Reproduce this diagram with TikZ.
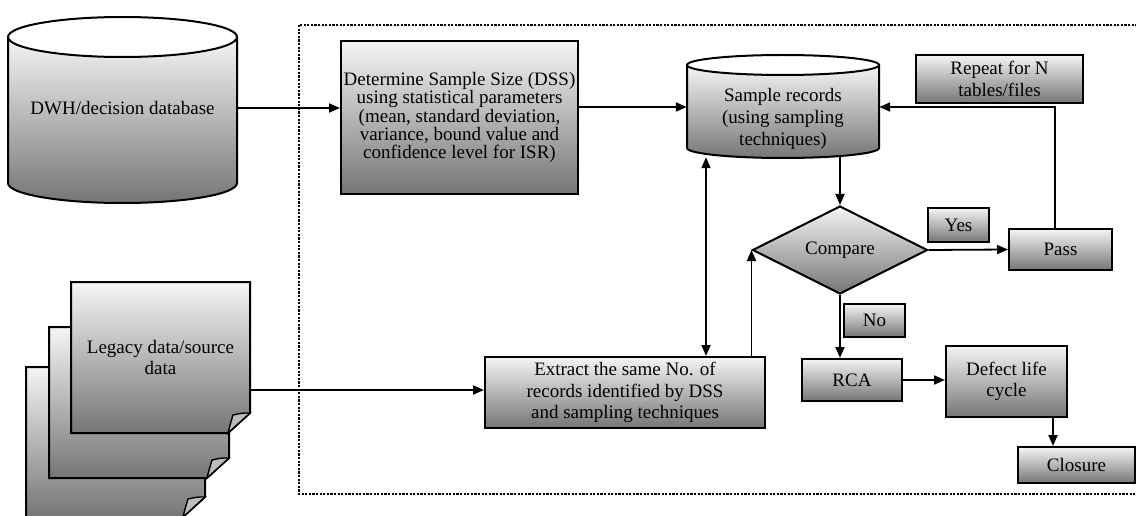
\documentclass[tikz,border=0pt]{standalone}
\usepackage{fontspec}
\setmainfont{Liberation Serif}
\usetikzlibrary{arrows.meta,shapes.geometric}

\definecolor{shtop}{gray}{0.96}
\definecolor{shbot}{gray}{0.46}
\definecolor{foldgray}{gray}{0.74}

% database drum: centre x, top-ellipse y, bottom-ellipse y, x radius, y radius
\newcommand\dbdrum[5]{%
  \path[top color=shtop,bottom color=shbot]
    (#1-#4,#2) -- (#1-#4,#3) arc[start angle=180,end angle=0,x radius=#4,y radius=#5]
    -- (#1+#4,#2) -- cycle;
  \draw[line width=2pt]
    (#1-#4,#2) -- (#1-#4,#3) arc[start angle=180,end angle=0,x radius=#4,y radius=#5]
    -- (#1+#4,#2);
  \draw[line width=2pt,fill=white] (#1,#2) ellipse[x radius=#4,y radius=#5];
}

% document sheet with a curled lower-right corner: left, top, right, bottom
\newcommand\legdoc[4]{%
  \draw[line width=2pt,top color=shtop,bottom color=shbot]
    (#1,#2) -- (#3,#2) -- (#3,#4-20) -- (#3-22,#4) -- (#1,#4) -- cycle;
  \draw[line width=1.4pt,fill=foldgray]
    (#3-22,#4) .. controls (#3-20,#4-8) .. (#3-17,#4-18)
    .. controls (#3-8,#4-20) .. (#3,#4-20) -- cycle;
}

\begin{document}
\begin{tikzpicture}[x=1pt,y=-1pt,
  txt/.style={font=\fontsize{19}{21.7}\selectfont, align=center, inner sep=0pt},
  box/.style={txt, draw=black, line width=2pt, top color=shtop, bottom color=shbot},
  conn/.style={line width=1.8pt, -{Triangle[length=11pt,width=9pt]}},
  dbl/.style={line width=1.8pt, {Triangle[length=11pt,width=9pt]}-{Triangle[length=11pt,width=9pt]}},
  frame/.style={line width=2.4pt, dash pattern=on 2.2pt off 1.4pt}]

\useasboundingbox (0,0) rectangle (1136,516);

% boundary of the testing area
\draw[frame] (299,25) rectangle (1160,494);

% source stores
\dbdrum{122.5}{37}{183}{114.5}{20}
\node[txt, minimum width=229pt, minimum height=146pt] (dwh) at (122.5,108) {DWH/decision database};

\legdoc{26}{367}{205}{517}
\legdoc{49}{327}{229}{478}
\legdoc{71}{282}{250}{433}
\node[txt, font=\fontsize{19}{20.5}\selectfont, minimum width=179pt, minimum height=151pt] (leg) at (160.5,357.5) {Legacy data/source\\data};

% process steps
\node[box, font=\fontsize{19}{18.4}\selectfont, minimum width=237pt, minimum height=153pt] (dss) at (459.5,117.5)
  {Determine Sample Size (DSS)\\using statistical parameters\\(mean, standard deviation,\\variance, bound value and\\confidence level for ISR)};

\dbdrum{783}{65}{148}{96}{10}
\node[minimum width=192pt, minimum height=100pt, inner sep=0pt] (samp) at (783,107) {};
\node[txt] (samptext) at (783,119) {Sample records\\(using sampling\\techniques)};

\node[box, minimum width=167pt, minimum height=48pt] (rep) at (999.5,79) {Repeat for N\\tables/files};

\node[box, shape=diamond, aspect=2, minimum width=175pt, minimum height=88pt] (cmp) at (840,250) {Compare};

\node[box, minimum width=61pt, minimum height=34pt] (yes) at (958.5,225) {Yes};
\node[box, minimum width=103pt, minimum height=41pt] (pass) at (1060.5,249.5) {Pass};
\node[box, minimum width=61pt, minimum height=33pt] (no) at (874.5,320.5) {No};

\node[box, minimum width=280pt, minimum height=71pt] (extr) at (625,392.5)
  {Extract the same No. of\\records identified by DSS\\and sampling techniques};

\node[box, minimum width=100pt, minimum height=42pt] (rca) at (852,380) {RCA};
\node[box, minimum width=121pt, minimum height=71pt] (def) at (1006.5,381.5) {Defect life\\cycle};
\node[box, minimum width=117pt, minimum height=36pt] (clo) at (1076.5,465) {Closure};

% connectors
\draw[conn] (dwh.east) -- (dwh.east -| dss.west);
\draw[conn] (samp.west -| dss.east) -- (samp.west);
\draw[conn] ([xshift=-5.5pt]pass.north) |- (samp.east);
\draw[conn] (samp.south -| cmp.north) -- (cmp.north);
\draw[conn] (cmp.east) -- (pass.west);
\draw[conn] (cmp.south) -- (cmp.south |- rca.north);
\draw[conn] (rca.east) -- (rca.east -| def.west);
\draw[conn] ([xshift=-23.5pt]clo.north |- def.south) -- ([xshift=-23.5pt]clo.north);
\draw[conn] ([yshift=2.5pt]extr.west -| leg.east) -- ([yshift=2.5pt]extr.west);
\draw[conn] (extr.north -| cmp.west) -- (cmp.west);
\draw[dbl] ([xshift=81pt]extr.north) -- ([xshift=81pt]extr.north |- samp.south);

\end{tikzpicture}
\end{document}
